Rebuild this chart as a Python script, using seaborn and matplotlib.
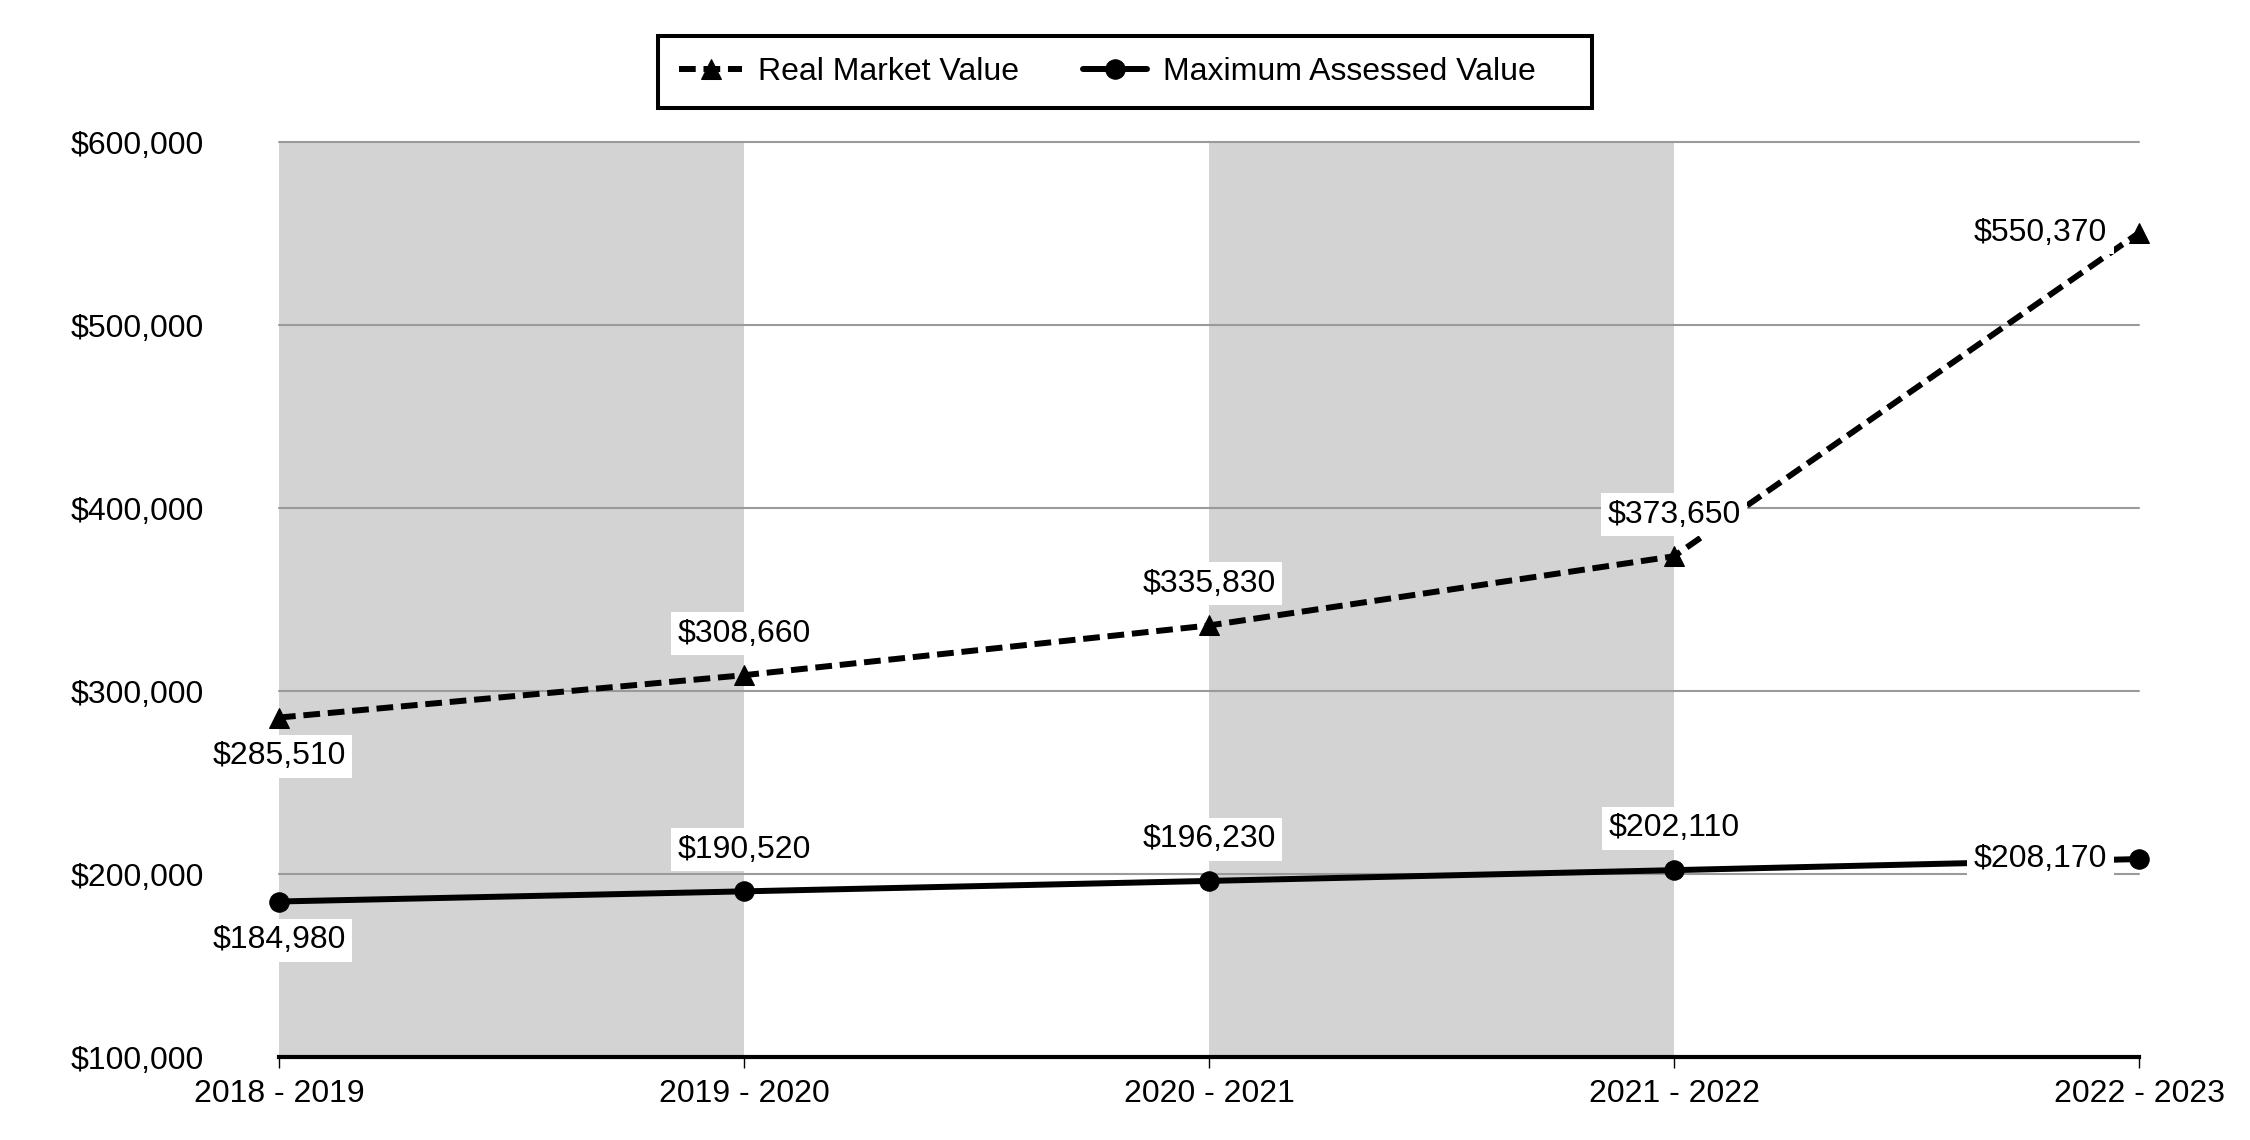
import numpy as np
import pandas as pd
import matplotlib
matplotlib.use("Agg")
import matplotlib.pyplot as plt
import seaborn as sns

# --- données ---
years = ["2018 - 2019", "2019 - 2020", "2020 - 2021", "2021 - 2022", "2022 - 2023"]
real_market = [285510, 308660, 335830, 373650, 550370]
max_assessed = [184980, 190520, 196230, 202110, 208170]
y_ticks = [100000, 200000, 300000, 400000, 500000, 600000]

sns.set_style("white")
plt.rcParams["font.family"] = ["Liberation Sans", "DejaVu Sans"]
plt.rcParams["text.color"] = "black"
plt.rcParams["xtick.color"] = "black"
plt.rcParams["ytick.color"] = "black"
FS = 23

pos = np.arange(len(years))
df = pd.DataFrame({"pos": pos, "real": real_market, "max": max_assessed})

fig = plt.figure(figsize=(22.5, 11.4), dpi=100)
ax = fig.add_axes([0.1240, 0.0728, 0.8267, 0.8026])

# bandes grises alternées
for i in range(0, len(years) - 1, 2):
    ax.axvspan(pos[i], pos[i + 1], color="#d3d3d3", zorder=0, lw=0)

for v in y_ticks[1:]:
    ax.axhline(v, color="#9a9a9a", lw=1.5, zorder=1, clip_on=False)

sns.lineplot(data=df, x="pos", y="real", ax=ax, color="black", lw=4.3,
             linestyle=(0, (2.8, 1.3)), marker="^", markersize=14,
             markeredgecolor="black", clip_on=False, zorder=3,
             label="Real Market Value")
sns.lineplot(data=df, x="pos", y="max", ax=ax, color="black", lw=4.3,
             marker="o", markersize=14, markeredgecolor="black",
             clip_on=False, zorder=3, label="Maximum Assessed Value")

box = dict(boxstyle="square,pad=0.2", fc="white", ec="none")

def label_series(vals):
    for i, v in enumerate(vals):
        txt = f"${v:,}"
        if i == len(vals) - 1:
            ax.annotate(txt, (pos[i], v), xytext=(-23, 0), textcoords="offset points",
                        ha="right", va="center", fontsize=FS, bbox=box, zorder=4,
                        annotation_clip=False, color="black")
        elif i == 0:
            ax.annotate(txt, (pos[i], v), xytext=(0, -28), textcoords="offset points",
                        ha="center", va="center", fontsize=FS, bbox=box, zorder=4,
                        color="black")
        else:
            ax.annotate(txt, (pos[i], v), xytext=(0, 30), textcoords="offset points",
                        ha="center", va="center", fontsize=FS, bbox=box, zorder=4,
                        color="black")

label_series(real_market)
label_series(max_assessed)

ax.set_xlim(pos[0], pos[-1])
ax.set_ylim(y_ticks[0], y_ticks[-1])
ax.set_xticks(pos)
ax.set_xticklabels(years, fontsize=FS, color="black")
ax.set_yticks(y_ticks)
ax.set_yticklabels([f"${v:,}" for v in y_ticks], fontsize=FS, color="black")
ax.set_xlabel("")
ax.set_ylabel("")
ax.tick_params(axis="y", length=0, pad=54)
ax.tick_params(axis="x", length=8, width=1, color="black", pad=8, direction="out",
               bottom=True)

for s in ["top", "right", "left"]:
    ax.spines[s].set_visible(False)
ax.spines["bottom"].set_color("black")
ax.spines["bottom"].set_linewidth(3.0)
ax.spines["bottom"].set_zorder(5)

ax.get_legend().remove()
handles, labels = ax.get_legend_handles_labels()
labels = [labels[0], labels[1] + "    "]  # marge droite plus large comme l'original
leg = fig.legend(handles, labels, loc="upper center", bbox_to_anchor=(0.5, 0.9684),
                 ncol=2, fontsize=FS, frameon=True, fancybox=False, framealpha=1,
                 edgecolor="black", handlelength=2.0, columnspacing=2.0,
                 handletextpad=0.5, borderpad=0.65, borderaxespad=0)
leg.get_frame().set_linewidth(2.9)
for t in leg.get_texts():
    t.set_color("black")

plt.savefig("out.png", dpi=100)
